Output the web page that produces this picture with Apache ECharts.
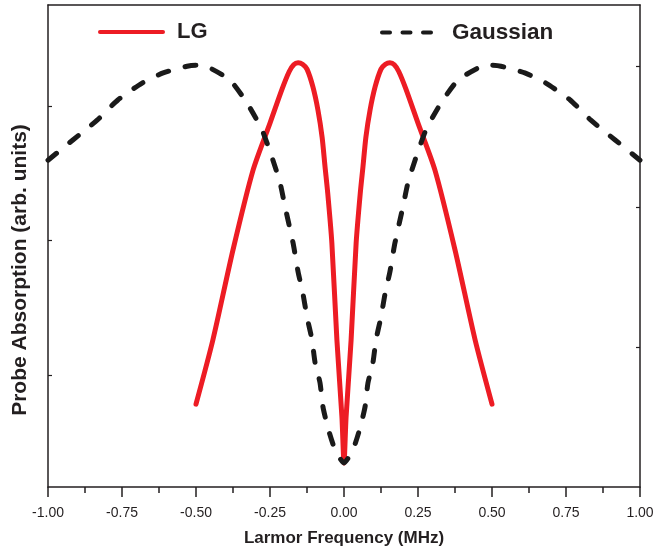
<!DOCTYPE html>
<html>
<head>
<meta charset="utf-8">
<script src="https://cdn.jsdelivr.net/npm/echarts@6/dist/echarts.min.js"></script>
<style>
  html, body { margin: 0; padding: 0; background: #fff; }
  #chart { width: 658px; height: 552px; }
</style>
</head>
<body>
<div id="chart"></div>
<script>
// values (y in arbitrary units, 0..1 across the frame)
var lgX = [-0.5, -0.443, -0.375, -0.307, -0.25, -0.209, -0.185, -0.17, -0.155, -0.14, -0.125, -0.105, -0.088, -0.074, -0.064, -0.055, -0.041, -0.024, -0.007, 0,
           0.007, 0.024, 0.041, 0.055, 0.064, 0.074, 0.088, 0.105, 0.125, 0.14, 0.155, 0.17, 0.185, 0.209, 0.25, 0.307, 0.375, 0.443, 0.5];
var lgY = [0.172, 0.305, 0.492, 0.658, 0.755, 0.826, 0.862, 0.876, 0.880, 0.877, 0.867, 0.830, 0.782, 0.726, 0.664, 0.610, 0.506, 0.305, 0.145, 0.05,
           0.145, 0.305, 0.506, 0.610, 0.664, 0.726, 0.782, 0.830, 0.867, 0.877, 0.880, 0.876, 0.862, 0.826, 0.755, 0.658, 0.492, 0.305, 0.172];

var gaussX = [-1, -0.916, -0.834, -0.764, -0.682, -0.611, -0.53, -0.5, -0.459, -0.385, -0.328, -0.277, -0.24, -0.216, -0.199, -0.172, -0.155, -0.139, -0.125, -0.108, -0.098, -0.081, -0.071, -0.054, -0.03, 0,
              0.03, 0.054, 0.071, 0.081, 0.098, 0.108, 0.125, 0.139, 0.155, 0.172, 0.199, 0.216, 0.24, 0.277, 0.328, 0.385, 0.459, 0.5, 0.53, 0.611, 0.682, 0.764, 0.834, 0.916, 1];
var gaussY = [0.678, 0.720, 0.761, 0.803, 0.838, 0.859, 0.873, 0.875, 0.871, 0.844, 0.797, 0.741, 0.678, 0.631, 0.581, 0.506, 0.446, 0.402, 0.353, 0.305, 0.259, 0.216, 0.166, 0.122, 0.077, 0.05,
              0.077, 0.122, 0.166, 0.216, 0.259, 0.305, 0.353, 0.402, 0.446, 0.506, 0.581, 0.631, 0.678, 0.741, 0.797, 0.844, 0.871, 0.875, 0.873, 0.859, 0.838, 0.803, 0.761, 0.720, 0.678];

var xTicks = [-1, -0.75, -0.5, -0.25, 0, 0.25, 0.5, 0.75, 1];
var leftTicks = [0.232, 0.511, 0.789];
var rightTicks = [0.290, 0.581, 0.873];

function zip(xs, ys) {
  return xs.map(function (x, i) { return [x, ys[i]]; });
}

var font = '"Liberation Sans", Arial, Helvetica, sans-serif';
var axisColor = '#231f20';
var red = '#ed1c24';
var black = '#1a1a1a';

// legend icons: solid bar for LG, three rounded dashes for Gaussian
var solidIcon = 'path://M2,0h63a2,2 0 0 1 0,4h-63a2,2 0 0 1 0,-4z';
var dashIcon = 'path://M2,0h8a2,2 0 0 1 0,4h-8a2,2 0 0 1 0,-4z' +
               'M22.5,0h8a2,2 0 0 1 0,4h-8a2,2 0 0 1 0,-4z' +
               'M43,0h8a2,2 0 0 1 0,4h-8a2,2 0 0 1 0,-4z';

var myChart = echarts.init(document.getElementById('chart'));
var option = {
  backgroundColor: '#fff',
  animation: false,
  textStyle: { fontFamily: font },
  grid: { left: 48, right: 18, top: 5, bottom: 65 },
  legend: [
    {
      data: [{ name: 'LG', icon: solidIcon }],
      left: 98, top: 21, padding: 0,
      itemWidth: 67, itemHeight: 5,
      textStyle: { fontSize: 22, fontWeight: 'bold', color: axisColor, fontFamily: font, padding: [0, 0, 0, 7] }
    },
    {
      data: [{ name: 'Gaussian', icon: dashIcon }],
      left: 380, top: 21, padding: 0,
      itemWidth: 53, itemHeight: 5,
      textStyle: { fontSize: 22.5, fontWeight: 'bold', color: axisColor, fontFamily: font, padding: [0, 0, 0, 14] }
    }
  ],
  xAxis: [
    {
      type: 'value', min: -1, max: 1, interval: 0.25,
      name: 'Larmor Frequency (MHz)',
      nameLocation: 'middle', nameGap: 43,
      nameTextStyle: { fontSize: 17, fontWeight: 'bold', color: axisColor, fontFamily: font },
      axisLine: { onZero: false, lineStyle: { color: axisColor, width: 1.5 } },
      axisTick: { show: true, inside: false, length: 10, lineStyle: { color: axisColor, width: 1.5 }, customValues: xTicks },
      minorTick: { show: true, splitNumber: 2, length: 6, lineStyle: { color: axisColor, width: 1.5 } },
      axisLabel: {
        margin: 19, fontSize: 14, color: axisColor, fontFamily: font,
        formatter: function (v) { return v.toFixed(2); }
      },
      splitLine: { show: false }
    },
    {
      type: 'value', position: 'top', min: -1, max: 1,
      axisLine: { show: true, onZero: false, lineStyle: { color: axisColor, width: 1.5 } },
      axisTick: { show: false }, axisLabel: { show: false }, splitLine: { show: false }
    }
  ],
  yAxis: [
    {
      type: 'value', min: 0, max: 1, position: 'left',
      name: 'Probe Absorption (arb. units)',
      nameLocation: 'middle', nameGap: 17,
      nameTextStyle: { fontSize: 21, fontWeight: 'bold', color: axisColor, fontFamily: font, padding: [0, 48, 0, 0] },
      axisLine: { show: true, onZero: false, lineStyle: { color: axisColor, width: 1.5 } },
      axisTick: { show: true, inside: true, length: 4, customValues: leftTicks, lineStyle: { color: axisColor, width: 1.2 } },
      axisLabel: { show: false },
      splitLine: { show: false }
    },
    {
      type: 'value', min: 0, max: 1, position: 'right',
      axisLine: { show: true, onZero: false, lineStyle: { color: axisColor, width: 1.5 } },
      axisTick: { show: true, inside: true, length: 4, customValues: rightTicks, lineStyle: { color: axisColor, width: 1.2 } },
      axisLabel: { show: false },
      splitLine: { show: false }
    }
  ],
  series: [
    {
      name: 'LG',
      type: 'line',
      data: zip(lgX, lgY),
      smooth: 0.25,
      symbol: 'none',
      lineStyle: { color: red, width: 5, cap: 'round', join: 'round' },
      itemStyle: { color: red },
      z: 3
    },
    {
      name: 'Gaussian',
      type: 'line',
      data: zip(gaussX, gaussY),
      smooth: 0.2,
      symbol: 'none',
      lineStyle: { color: black, width: 5, type: [11, 17], cap: 'round', join: 'round' },
      itemStyle: { color: black },
      z: 4
    }
  ]
};
myChart.setOption(option);
</script>
</body>
</html>
